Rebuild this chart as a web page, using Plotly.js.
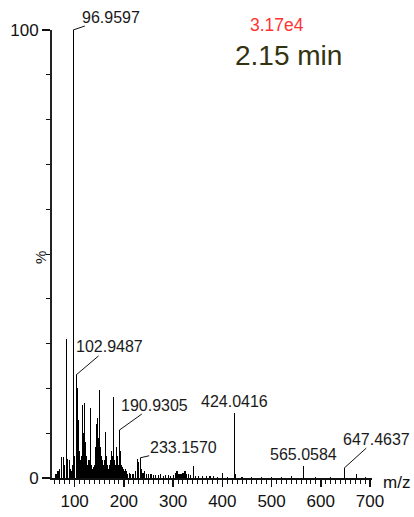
<!DOCTYPE html>
<html>
<head>
<meta charset="utf-8">
<script src="https://cdn.plot.ly/plotly-3.0.1.min.js"></script>
<style>html,body{margin:0;padding:0;background:#fff;}#chart{width:414px;height:517px;}</style>
</head>
<body>
<div id="chart"></div>
<script>
// m/z values of the sticks
const mz = [62,66,70,74,77.5,80,83.5,86,89,91,93,95,96.9597,98.5,100,
  102.9487,104,105,106,107,108.5,110,112,114,115.8,117,118.5,119.9,121,123,125,127,129,131.4,133,135,137,139,141,143,145,147,148.5,150.3,152,154,156,158,160,162,163.3,165,167,169,171,173,175,177,178.7,180,182,184.2,186,188,190.9305,193,195,197,199,201,203,205,208,211,214,217,220,224,228,230,233.157,236,239,242,246,250,255,260,265,270,275,280,285,290,295,300,305,308,312,316,320,324,328,332,336,341,346,352,360,368,375,382,390,401,410,424.0416,426,440,460,480,500,520,540,565.0584,590,620,647.4637,672,690];
// relative intensity (%)
const intensity = [1.0,1.5,2.0,4.7,4.7,3.0,31,4.2,4.0,2.0,1.5,3.0,100,5,4,
  23,22,20,17,13,9,6,4,5,16.3,10,6,16.7,8,5,3,2.5,4,15.6,5,3,2,2.5,3,7,12,13.4,9,19.6,7,5,4,3,4,6,10.3,5,3,2,3,4,6,5,18.1,4,3,7,5,3,10.7,6,3,2.5,2,1.5,2,1.5,1,1.2,0.8,1,0.8,1.5,4.2,3.5,4.5,2,1.2,1.5,1,0.8,1,0.6,0.7,0.6,0.8,0.5,0.6,0.7,0.5,0.6,1.2,1.5,1.0,0.8,1.2,1.5,1,0.8,0.6,2.7,0.5,0.4,0.5,0.4,0.4,0.5,0.3,1.2,0.3,14.5,1.0,0.3,0.3,0.3,0.3,0.3,0.4,2.7,0.3,0.3,2.2,1.0,0.3];

// labelled peaks
const labelMz = [96.9597, 102.9487, 190.9305, 233.157, 424.0416, 565.0584, 647.4637];
const labelInt = [100, 23, 10.7, 4.5, 14.5, 2.7, 2.2];
const labelText = ["96.9597", "102.9487", "190.9305", "233.1570", "424.0416", "565.0584", "647.4637"];

const xTickVals = [100, 200, 300, 400, 500, 600, 700];
const xTickText = ["100", "200", "300", "400", "500", "600", "700"];
const yTickVals = [0, 100];
const yTickText = ["0", "100"];

const intensityLabel = "3.17e4";
const timeLabel = "2.15 min";
const xUnit = "m/z";
const yUnit = "%";

const font = "Liberation Sans, Arial, sans-serif";

// leader offsets (pixels) for each labelled peak
const leaders = [
  {ax: 38, ay: -13, show: true},
  {ax: 33, ay: -28, show: true},
  {ax: 35, ay: -25, show: true},
  {ax: 43, ay: -10, show: true},
  {show: false},
  {show: false},
  {ax: 32, ay: -29, show: true}
];

const annotations = labelMz.map((m, i) => {
  const L = leaders[i];
  const a = {
    x: m, y: labelInt[i], xref: 'x', yref: 'y',
    text: labelText[i],
    font: {family: font, size: 16, color: '#1a1a1a'},
    borderpad: 0
  };
  if (L.show) {
    Object.assign(a, {showarrow: true, ax: L.ax, ay: L.ay, arrowhead: 0, arrowwidth: 1,
      arrowcolor: '#111', standoff: 0, startstandoff: 0, xanchor: 'center', yanchor: 'middle'});
  } else {
    Object.assign(a, {showarrow: false, xanchor: 'center', yanchor: 'bottom', yshift: 2});
  }
  return a;
});

annotations.push({xref: 'paper', yref: 'paper', x: 1.075, y: -0.009, text: xUnit, showarrow: false,
  xanchor: 'center', yanchor: 'middle', font: {family: font, size: 17, color: '#111'}});
annotations.push({xref: 'paper', yref: 'paper', x: -0.0375, y: 0.491, text: yUnit, showarrow: false,
  textangle: -90, xanchor: 'center', yanchor: 'middle', font: {family: font, size: 15, color: '#111'}});
annotations.push({xref: 'paper', yref: 'paper', x: 0.703, y: 1.011, text: intensityLabel, showarrow: false,
  xanchor: 'center', yanchor: 'middle', font: {family: font, size: 17.5, color: '#ff3333'}});
annotations.push({xref: 'paper', yref: 'paper', x: 0.739, y: 0.944, text: timeLabel, showarrow: false,
  xanchor: 'center', yanchor: 'middle', font: {family: font, size: 28, color: '#333311'}});

const trace = {
  type: 'bar', x: mz, y: intensity, width: 2.4,
  marker: {color: '#000', line: {width: 0}},
  hoverinfo: 'x+y'
};

const layout = {
  width: 414, height: 517,
  margin: {l: 52, r: 42, t: 30, b: 39, pad: 0},
  paper_bgcolor: '#fff', plot_bgcolor: '#fff',
  showlegend: false,
  bargap: 0,
  xaxis: {
    range: [54, 704], showgrid: false, zeroline: false,
    showline: true, linecolor: '#111', linewidth: 2,
    tickmode: 'array', tickvals: xTickVals, ticktext: xTickText,
    ticks: 'outside', ticklen: 7, tickwidth: 1.5, tickcolor: '#111',
    minor: {dtick: 10, ticks: 'outside', ticklen: 4, tickwidth: 1, tickcolor: '#111'},
    tickfont: {family: font, size: 17, color: '#111'}
  },
  yaxis: {
    range: [0, 100], showgrid: false, zeroline: false,
    showline: true, linecolor: '#222', linewidth: 2,
    tickmode: 'array', tickvals: yTickVals, ticktext: yTickText,
    ticks: 'outside', ticklen: 8, tickwidth: 1.5, tickcolor: '#111',
    minor: {dtick: 10, ticks: 'outside', ticklen: 4, tickwidth: 1, tickcolor: '#111'},
    tickfont: {family: font, size: 17, color: '#111'}
  },
  annotations: annotations
};

Plotly.newPlot('chart', [trace], layout, {displayModeBar: false, staticPlot: true});
</script>
</body>
</html>
